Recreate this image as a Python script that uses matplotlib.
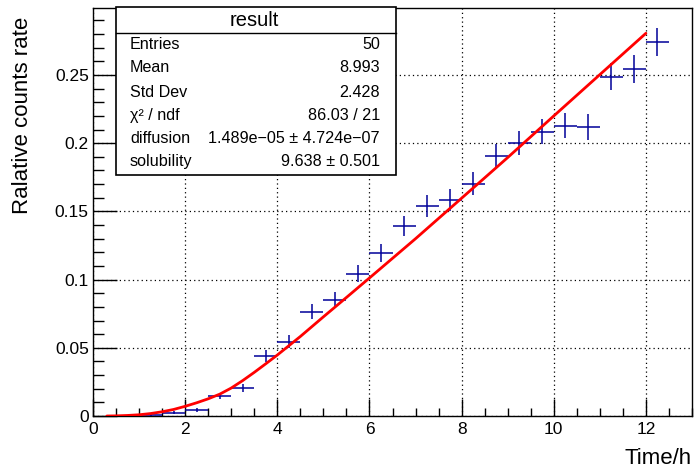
import numpy as np
import matplotlib
matplotlib.use('Agg')
import matplotlib.pyplot as plt
from matplotlib.ticker import MultipleLocator

plt.rcParams['font.family'] = ['Liberation Sans', 'DejaVu Sans']

# ----- data (bin centres, contents, errors)
time_h = [0.75, 1.25, 1.75, 2.25, 2.75, 3.25, 3.75, 4.25, 4.75, 5.25, 5.75, 6.25,
          6.75, 7.25, 7.75, 8.25, 8.75, 9.25, 9.75, 10.25, 10.75, 11.25, 11.75, 12.25]
rate = [0.0002, 0.0004, 0.0024, 0.0046, 0.0148, 0.0204, 0.0440, 0.0545, 0.0764, 0.0849,
        0.1044, 0.1195, 0.1394, 0.1540, 0.1584, 0.1703, 0.1905, 0.2002, 0.2083, 0.2129,
        0.2119, 0.2489, 0.2545, 0.2742]
rate_err = [0.0003, 0.0004, 0.0010, 0.0014, 0.0024, 0.0029, 0.0042, 0.0047, 0.0055, 0.0058,
            0.0065, 0.0069, 0.0075, 0.0078, 0.0080, 0.0083, 0.0087, 0.0089, 0.0091, 0.0092,
            0.0092, 0.0100, 0.0101, 0.0105]
bin_half = 0.25

# ----- fitted curve, points
fit_t = [0.3, 0.5, 0.75, 1.0, 1.25, 1.5, 1.75, 2.0, 2.25, 2.5, 2.75, 3.0, 3.25, 3.5,
         3.75, 4.0, 4.5, 5.0, 5.5, 6.0, 7.0, 8.0, 9.0, 10.0, 11.0, 12.0]
fit_rate = [0.0, 0.0001, 0.0004, 0.0009, 0.0018, 0.0031, 0.0048, 0.0071, 0.0097, 0.0126,
            0.0160, 0.0205, 0.0260, 0.0320, 0.0383, 0.0447, 0.0583, 0.0727, 0.0869,
            0.1012, 0.1300, 0.1597, 0.1895, 0.2200, 0.2503, 0.2806]

stats_names = ['Entries', 'Mean', 'Std Dev', 'χ² / ndf', 'diffusion', 'solubility']
stats_values = ['50', '8.993', '2.428', '86.03 / 21',
                '1.489e\u221205 \u00b1 4.724e\u221207', '9.638 \u00b1 0.501']

fig = plt.figure(figsize=(6.96, 4.71), dpi=100)
ax = fig.add_axes([93/696, 1-416/471, (692-93)/696, (416-7.5)/471])

ax.errorbar(time_h, rate, xerr=bin_half, yerr=rate_err, fmt='none',
            ecolor='#000099', elinewidth=1.1, capsize=0, zorder=3)
ax.plot(fit_t, fit_rate, color='#ff0000', lw=2.0, zorder=4, solid_capstyle='round')

ax.set_xlim(0, 13)
ax.set_ylim(0, 0.2995)
ax.xaxis.set_minor_locator(MultipleLocator(0.5))
ax.yaxis.set_minor_locator(MultipleLocator(0.01))
ax.set_yticks([0, 0.05, 0.1, 0.15, 0.2, 0.25])
ax.set_yticklabels(['0', '0.05', '0.1', '0.15', '0.2', '0.25'])
ax.set_xticks([0, 2, 4, 6, 8, 10, 12])
ax.set_xticklabels(['0', '2', '4', '6', '8', '10', '12'])
ax.tick_params(which='both', direction='in', top=False, right=False, labelsize=12.5)
ax.tick_params(axis='x', which='major', length=12, width=1, pad=4)
ax.tick_params(axis='x', which='minor', length=6, width=1)
ax.tick_params(axis='y', which='major', length=17, width=1, pad=3)
ax.tick_params(axis='y', which='minor', length=8, width=1)
ax.grid(True, which='major', color='black', linestyle=(0, (1, 2.5)), linewidth=0.9)
for s in ax.spines.values():
    s.set_linewidth(1.0)

fig.text(692/696, 1-459/471, 'Time/h', ha='right', va='center', fontsize=16)
fig.text(22/696, 1-115/471, 'Ralative counts rate', rotation=90, ha='center', va='center', fontsize=16)

# ----- stats box
x0, x1 = 116/696, 396/696
y0, y1 = 1-174.5/471, 1-7.5/471
box = plt.Rectangle((x0, y0), x1-x0, y1-y0, transform=fig.transFigure,
                    facecolor='white', edgecolor='black', lw=1.2, zorder=10)
fig.patches.append(box)
fig.add_artist(plt.Line2D([x0, x1], [1-32.7/471]*2, color='black', lw=1.0, zorder=11))
fig.text(254/696, 1-20.5/471, 'result', ha='center', va='center', fontsize=14.5, zorder=12)
row_y = [44.3, 67.7, 92.7, 115.7, 139.0, 161.7]
for name, val, yy in zip(stats_names, stats_values, row_y):
    fig.text(130/696, 1-yy/471, name, ha='left', va='center', fontsize=11.6, zorder=12)
    fig.text(380/696, 1-yy/471, val, ha='right', va='center', fontsize=11.6, zorder=12)

fig.savefig('out.png', dpi=100)
